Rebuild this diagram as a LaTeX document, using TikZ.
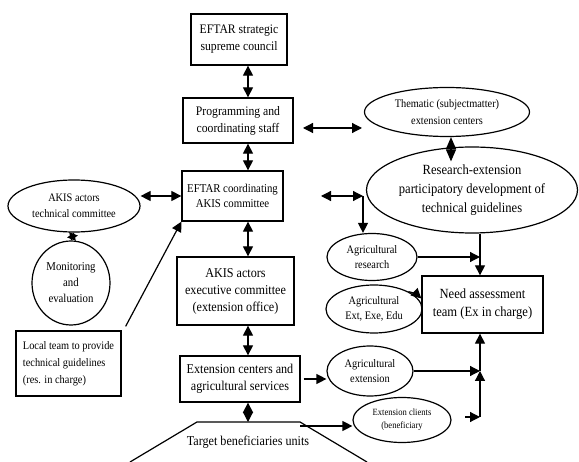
\documentclass[tikz,border=0pt]{standalone}
\usepackage{fontspec}
\setmainfont{Liberation Serif}[FakeStretch=0.9]
\usetikzlibrary{arrows.meta,shapes.geometric}
\newcommand\fsz[2]{\fontsize{#1}{#2}\selectfont}
\tikzset{
  box/.style={draw, line width=1.3pt, rectangle, inner sep=0pt, align=center},
  oval/.style={draw, line width=1.2pt, ellipse, inner sep=0pt, align=center},
  tip/.tip={Triangle[length=10pt,width=10pt]},
  arr/.style={line width=1.2pt, -tip},
  dbl/.style={line width=1.2pt, tip-tip},
}
\begin{document}
\begin{tikzpicture}[x=1pt,y=-1pt]
\fill[white] (0,0) rectangle (579,462);
\useasboundingbox (0,0) rectangle (579,462);

% central column
\node[box, minimum width=96pt, minimum height=51pt, font=\fsz{13}{17}] (council) at (239,39.5) {EFTAR strategic\\supreme council};
\node[box, minimum width=110pt, minimum height=45pt, font=\fsz{13}{17}] (prog) at (238,120.5) {Programming and\\coordinating staff};
\node[box, minimum width=101pt, minimum height=50pt, font=\fsz{12}{15}] (coord) at (232.5,196) {EFTAR coordinating\\AKIS committee};
\node[box, minimum width=117pt, minimum height=68pt, font=\fsz{13.5}{17}] (exec) at (235.5,291) {AKIS actors\\executive committee\\(extension office)};
\node[box, minimum width=120pt, minimum height=46pt, font=\fsz{13.5}{17}] (extc) at (240,379) {Extension centers and\\agricultural services};

% target beneficiaries
\draw[line width=1.2pt] (130,462) -- (197,422) -- (300,422) -- (367,462);
\node[font=\fsz{13.5}{17}] (tgt) at (248,442) {Target beneficiaries units};
\coordinate (tgttop) at (248,422);
\coordinate (tgtne) at (300,426);

% left side
\node[oval, minimum width=132pt, minimum height=52pt, font=\fsz{11.5}{16}] (akis) at (74,206) {AKIS actors\\technical committee};
\node[oval, minimum width=78pt, minimum height=84pt, font=\fsz{12}{16}] (mon) at (71,283) {Monitoring\\and\\evaluation};
\node[box, minimum width=105pt, minimum height=65pt, align=left, font=\fsz{11.5}{17}] (local) at (68.5,363.5) {Local team to provide\\technical guidelines\\(res. in charge)};

% right side
\node[oval, minimum width=165pt, minimum height=49pt, font=\fsz{11.5}{17}] (them) at (447,112) {Thematic (subjectmatter)\\extension centers};
\node[oval, minimum width=211pt, minimum height=86pt, font=\fsz{14}{19}] (res) at (472,190) {Research-extension\\participatory development of\\technical guidelines};
\node[oval, minimum width=90pt, minimum height=47pt, font=\fsz{11.5}{15}] (agr) at (372,257) {Agricultural\\research};
\node[oval, minimum width=96pt, minimum height=48pt, font=\fsz{11.5}{15}] (agx) at (374,309) {Agricultural\\Ext, Exe, Edu};
\node[box, minimum width=121pt, minimum height=57pt, font=\fsz{14}{18}] (need) at (482.5,304.5) {Need assessment\\team (Ex in charge)};
\node[oval, minimum width=86pt, minimum height=50pt, font=\fsz{11.5}{15}] (age) at (370,371) {Agricultural\\extension};
\node[oval, minimum width=98pt, minimum height=45pt, font=\fsz{9.5}{13}] (cli) at (402,420) {Extension clients\\(beneficiary};

% helper coordinates
\coordinate (ax) at (248,0);
\coordinate (bx) at (451,0);
\coordinate (vx) at (480,0);
\coordinate (p1) at (303,128);
\coordinate (p2) at (362,128);
\coordinate (c1) at (321,196);
\coordinate (c2) at (363,196);
\coordinate (k1) at (465,417);
\coordinate (rt) at ([yshift=-15pt]res.north);

% central column links
\draw[dbl] (council.south -| ax) -- (prog.north -| ax);
\draw[dbl] (prog.south -| ax) -- (coord.north -| ax);
\draw[dbl] (coord.south -| ax) -- (exec.north -| ax);
\draw[dbl] (exec.south -| ax) -- (extc.north -| ax);
\draw[dbl] (extc.south -| ax) -- (tgttop);

% left links
\draw[dbl] (coord.west -| akis.east) -- (coord.west);
\draw[dbl, tip/.tip={Triangle[length=7pt,width=9pt]}] (akis.south) -- (mon.north);
\draw[arr] ([xshift=4pt,yshift=4pt]local.north east) -- (coord.south west);

% right links
\draw[dbl] (p1) -- (p2);
\draw[dbl, tip/.tip={Triangle[length=12pt,width=10pt]}] (them.south -| bx) -- (rt -| bx);
\draw[dbl] (c1) -- (c2);
\draw[arr] (c2) -- (c2 |- agr.north);
\draw[arr] (res.south -| vx) -- (need.north -| vx);
\draw[arr] (agr.east) -- (agr.east -| vx);
\draw[arr] (agx.north east) to[bend left=15] ([yshift=6pt]need.west);
\draw[arr] ([xshift=3pt]extc.east) -- (extc.east -| age.west);
\draw[arr] (age.east) -- (age.east -| vx);
\draw[arr] (tgtne) -- (tgtne -| cli.west);
\draw[arr] (k1) -- (k1 -| vx);
\draw[arr] (k1 -| vx) -- (age.east -| vx);
\draw[arr] (age.east -| vx) -- (need.south -| vx);
\end{tikzpicture}
\end{document}
